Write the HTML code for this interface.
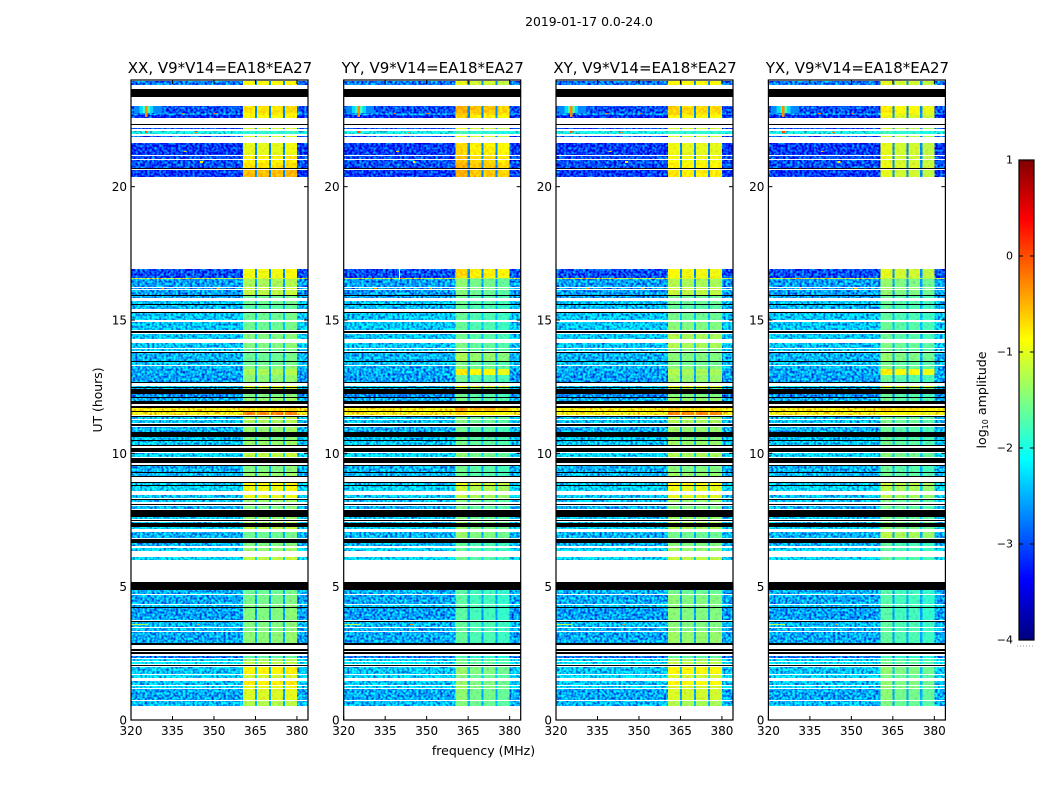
<!DOCTYPE html>
<html>
<head>
<meta charset="utf-8">
<title>2019-01-17 0.0-24.0</title>
<style>
html,body{margin:0;padding:0;background:#fff;}
svg{display:block;font-family:"DejaVu Sans","Liberation Sans",sans-serif;}
text{fill:#000;}
</style>
</head>
<body>
<svg id="fig" width="1050" height="800" viewBox="0 0 1050 800" xmlns="http://www.w3.org/2000/svg">
  <defs>
    <filter id="speckle-a" filterUnits="objectBoundingBox" x="0" y="0" width="1" height="1" color-interpolation-filters="sRGB">
      <feTurbulence type="fractalNoise" baseFrequency="0.42" numOctaves="1" seed="3" result="n"/>
      <feColorMatrix in="n" type="matrix" values="0 0 0 0 0.5  2 0 0 0 -0.5  0.7 0 0 0 0.15  0 0 0 0 1" result="g"/>
      <feComposite in="SourceGraphic" in2="g" operator="arithmetic" k1="0" k2="1" k3="1" k4="-0.5" result="m"/>
      <feComposite in="m" in2="SourceAlpha" operator="in"/>
    </filter>
    <filter id="speckle-b" filterUnits="objectBoundingBox" x="0" y="0" width="1" height="1" color-interpolation-filters="sRGB">
      <feTurbulence type="fractalNoise" baseFrequency="0.38" numOctaves="1" seed="8" result="n"/>
      <feColorMatrix in="n" type="matrix" values="0 0 0 0 0.5  1 0 0 0 0  0 0 0 0 0.5  0 0 0 0 1" result="g"/>
      <feComposite in="SourceGraphic" in2="g" operator="arithmetic" k1="0" k2="1" k3="0.5" k4="-0.25" result="m"/>
      <feComposite in="m" in2="SourceAlpha" operator="in"/>
    </filter>
  </defs>
  <text x="589" y="26" font-size="12.4" text-anchor="middle">2019-01-17 0.0-24.0</text>
  <text x="483.5" y="755" font-size="12.5" text-anchor="middle">frequency (MHz)</text>
  <text transform="translate(102,400) rotate(-90)" font-size="12.4" text-anchor="middle">UT (hours)</text>
  <text transform="translate(986,400) rotate(-90)" font-size="12.6" text-anchor="middle">log<tspan font-size="8" dy="2">10</tspan><tspan dy="-2"> amplitude</tspan></text>
  <g id="panels"></g>
  <g id="colorbar"></g>
</svg>
<script>
/* ---------- data (hours, MHz, log10 amplitude) ---------- */
const panelTitles = ["XX, V9*V14=EA18*EA27","YY, V9*V14=EA18*EA27","XY, V9*V14=EA18*EA27","YX, V9*V14=EA18*EA27"];
const xTicks = [320,335,350,365,380];
const yTicks = [0,5,10,15,20];
const colorTicks = [1,0,-1,-2,-3,-4];
const colorTickLabels = ["1","0","\u22121","\u22122","\u22123","\u22124"];

/* High-band blocks (MHz); everything else uses the low level */
const blockStart = [360.5,365.6,370.6,375.7];
const blockEnd   = [364.8,369.9,374.9,380.0];
const blockGainXX = [0,0,0,0.05];
const blockGainYY = [0.12,0,0,-0.08];
const blockGainXY = [0.05,0,0,0];
const blockGainYX = [0.1,0,0,-0.08];
const notchFloor = -2.7;

/* Observed time bands: [start hour, end hour] */
const bandHours = [
 [.53,.71],[.75,1.16],[1.2,1.28],[1.31,1.46],[1.58,1.69],[1.73,1.99],[2.03,2.06],[2.1,2.18],[2.21,2.29],[2.33,2.4],
 [2.89,3.3],[3.34,3.45],[3.49,3.68],[3.75,4.2],[4.24,4.31],[4.35,4.69],[4.73,4.88],[6,6.11],[6.34,6.45],[6.53,6.64],
 [6.83,7.05],[7.16,7.24],[7.39,7.43],[7.54,7.61],[7.91,8.03],[8.18,8.25],[8.33,8.44],[8.59,8.78],[8.81,8.89],[9.15,9.26],
 [9.3,9.53],[9.86,10.02],[10.31,10.45],[10.5,10.62],[10.8,10.99],[11.14,11.25],[11.29,11.36],[11.44,11.55],[11.59,11.7],[11.97,12.07],
 [12.12,12.22],[12.41,12.45],[12.49,12.54],[12.68,12.94],[12.94,13.16],[13.16,13.28],[13.33,13.43],[13.46,13.76],[13.82,13.91],[13.95,14.14],
 [14.29,14.48],[14.64,14.93],[15,15.26],[15.41,15.51],[15.53,15.56],[15.6,15.71],[15.83,15.9],[15.94,16.13],[16.16,16.2],[16.24,16.54],
 [16.54,16.58],[16.58,16.91],[20.36,20.63],[20.7,20.89],[20.89,21],[21.04,21.15],[21.2,21.64],[21.86,21.9],[21.97,22.09],[22.16,22.2],
 [22.58,22.69],[22.69,22.76],[22.76,23.03],[23.83,23.96]
];
const lowLevels = [
 -2.45,-2.55,-2.3,-2.4,-2.3,-2.4,-2.4,-2.2,-2.3,-2.8,
 -2.55,-2.5,-2.45,-2.6,-2.4,-2.55,-2.5,-2.3,-2.3,-2.5,
 -2.5,-2.3,-2.4,-2.4,-2.5,-2.4,-2.4,-2.3,-2.4,-2.5,
 -2.5,-2.3,-2.4,-2.4,-2.5,-2.4,-2.4,-0.95,-0.9,-2.5,
 -2.7,-2.5,-2.3,-2.6,-2.55,-2.5,-2.4,-2.5,-2.4,-2.4,
 -2.4,-2.4,-2.4,-2.5,-2.4,-2.4,-2.6,-2.6,-2.6,-2.6,
 -1.2,-3.0,-3.1,-3.0,-3.0,-3.0,-3.1,-3.0,-2.0,-3.0,
 -3.2,-2.7,-3.0,-2.8
];
const highXX = [
 -1.25,-1.05,-1.0,-0.8,-1.1,-0.85,-1.2,-1.2,-1.3,-1.7,
 -1.45,-1.5,-1.5,-1.5,-1.5,-1.55,-1.6,-1.2,-1.4,-1.5,
 -1.6,-1.2,-1.3,-1.4,-1.5,-1.4,-1.0,-0.95,-0.9,-1.4,
 -1.5,-1.2,-1.4,-1.5,-1.4,-1.3,-1.3,-0.3,-0.7,-1.4,
 -1.5,-1.3,-1.0,-1.45,-1.3,-1.5,-1.6,-1.6,-1.6,-1.5,
 -1.5,-1.6,-1.6,-1.7,-1.6,-1.6,-1.6,-1.2,-1.1,-1.3,
 -1.1,-0.95,-0.55,-0.75,-0.85,-0.8,-1.0,-1.1,-1.9,-1.1,
 -0.9,-0.8,-0.75,-0.9
];
const highYY = [
 -1.6,-1.55,-1.5,-1.5,-1.6,-1.5,-1.7,-1.65,-1.65,-1.9,
 -1.75,-1.75,-1.75,-1.8,-1.75,-1.8,-1.8,-1.7,-1.75,-1.75,
 -1.5,-1.5,-1.5,-1.6,-1.65,-1.6,-1.3,-1.25,-1.1,-1.7,
 -1.7,-1.55,-1.65,-1.7,-1.7,-1.6,-1.6,-0.85,-0.5,-1.65,
 -1.7,-1.5,-1.0,-1.7,-0.9,-1.6,-1.65,-1.4,-1.65,-1.65,
 -1.7,-1.75,-1.75,-1.75,-1.7,-1.7,-1.7,-1.6,-1.5,-1.55,
 -1.4,-0.8,-0.6,-0.6,-0.7,-0.7,-0.8,-1.1,-1.9,-1.1,
 -0.8,-0.7,-0.6,-1.1
];
const highXY = [
 -1.3,-1.1,-1.1,-0.9,-1.1,-0.9,-1.2,-1.2,-1.3,-1.7,
 -1.4,-1.5,-1.5,-1.5,-1.5,-1.5,-1.6,-1.2,-1.4,-1.5,
 -1.6,-1.3,-1.3,-1.4,-1.5,-1.4,-1.05,-1.0,-0.9,-1.4,
 -1.5,-1.3,-1.4,-1.5,-1.4,-1.3,-1.3,-0.3,-0.7,-1.4,
 -1.5,-1.3,-1.0,-1.4,-1.3,-1.5,-1.6,-1.5,-1.5,-1.3,
 -1.3,-1.5,-1.6,-1.7,-1.6,-1.6,-1.6,-1.2,-1.1,-1.3,
 -1.1,-0.95,-0.8,-0.85,-0.95,-0.95,-1.0,-1.1,-1.9,-1.1,
 -0.9,-0.75,-0.7,-0.9
];
const highYX = [
 -1.6,-1.55,-1.5,-1.5,-1.6,-1.5,-1.7,-1.65,-1.65,-1.9,
 -1.75,-1.75,-1.75,-1.8,-1.75,-1.8,-1.8,-1.7,-1.75,-1.75,
 -1.3,-1.5,-1.5,-1.6,-1.65,-1.6,-1.3,-1.3,-1.2,-1.65,
 -1.7,-1.55,-1.65,-1.7,-1.7,-1.6,-1.6,-0.9,-0.7,-1.65,
 -1.7,-1.5,-1.0,-1.7,-0.9,-1.6,-1.65,-1.5,-1.65,-1.6,
 -1.7,-1.7,-1.75,-1.75,-1.7,-1.7,-1.7,-1.5,-1.4,-1.5,
 -1.3,-1.1,-1.1,-1.05,-1.1,-1.1,-1.1,-1.2,-1.9,-1.2,
 -1.05,-0.95,-0.9,-1.1
];

/* Flagged rows rendered black: [start hour, end hour] */
const blackRows = [
 [2.03,2.06],[2.48,2.55],[2.59,2.66],[2.83,2.89],[3.69,3.73],[4.2,4.24],[4.88,5.18],[6.64,6.79],[7.24,7.39],[7.46,7.5],
 [7.62,7.88],[8.06,8.1],[8.25,8.29],[8.78,8.81],[8.89,8.93],[9.11,9.15],[9.26,9.3],[9.53,9.56],[9.65,9.84],[10.05,10.2],
 [10.28,10.31],[10.45,10.5],[10.63,10.79],[11.03,11.1],[11.36,11.4],[11.55,11.59],[11.7,11.76],[11.84,11.96],[12.07,12.11],[12.22,12.41],
 [12.45,12.49],[12.62,12.66],[13.43,13.46],[13.76,13.8],[14.51,14.59],[15.26,15.3],[15.56,15.6],[15.9,15.94],[20.66,20.7],
 [22.31,22.35],[23.36,23.68]
];

/* Narrow features, common to all products: [start hour, end hour, start MHz, end MHz, level] */
const features = [
 [22.76,23.03,321,323,-2.7],[22.76,23.03,323,324.3,-2.3],[22.76,23.03,324.3,325,-1.8],[22.76,23.03,325.9,326.8,-1.8],[22.76,23.03,326.8,328,-2.3],[22.76,23.03,328,331,-2.7],
 [22.6,23.03,325,325.9,-0.3],[22.0,22.09,325,326,0],[16.54,16.58,330,331,-0.2],[16.54,16.58,341,342,-0.3],
 [16.16,16.2,331,332,-0.4],[16.16,16.2,351,352,-0.5],[3.55,3.6,344,345,-0.4],[3.55,3.6,320,326,-1.2],[22.72,22.76,338,339,-0.2],
 [22.72,22.76,350,351,-0.1],[22.0,22.06,343,344,-0.3],[20.9,20.95,345,346,-0.8],[21.3,21.34,339,340,-0.6]
];

/* ---------- scales ---------- */
const panelLeft = [131,343.7,556,768.4];
const panelWidth = 177, plotTop = 80, plotBottom = 720, fMin = 320, fMax = 384, tMax = 24;
const cbLeft = 1019, cbRight = 1034, cbTop = 160, cbBottom = 640, vMin = -4, vMax = 1;
const highByPanel = [highXX,highYY,highXY,highYX];
const gainByPanel = [blockGainXX,blockGainYY,blockGainXY,blockGainYX];
const panelKeys = ["xx","yy","xy","yx"];

const hourY = h => plotBottom - (h/tMax)*(plotBottom-plotTop);
const freqX = (f,l) => l + ((f-fMin)/(fMax-fMin))*panelWidth;
const levelY = v => cbBottom - ((v-vMin)/(vMax-vMin))*(cbBottom-cbTop);

function jet(v){
  const t = Math.min(1,Math.max(0,(v-vMin)/(vMax-vMin)));
  const ch = x => Math.round(255*Math.min(1,Math.max(0,1.5-Math.abs(4*t-x))));
  return "rgb("+ch(3)+","+ch(2)+","+ch(1)+")";
}
const NS = "http://www.w3.org/2000/svg";
function mk(tag,attrs,parent){
  const n = document.createElementNS(NS,tag);
  for(const k in attrs) n.setAttribute(k,attrs[k]);
  parent.appendChild(n);
  return n;
}
function cell(parent,x0,x1,h0,h1,fill){
  const yTop = Math.round(hourY(h1)), yBot = Math.round(hourY(h0));
  return mk("rect",{x:x0,y:yTop,width:x1-x0,height:Math.max(1,yBot-yTop),fill:fill,"shape-rendering":"crispEdges"},parent);
}

/* ---------- panels ---------- */
const panelsRoot = document.getElementById("panels");
panelLeft.forEach((left,p)=>{
  const key = panelKeys[p];
  const right = left+panelWidth;
  const g = mk("g",{},panelsRoot);
  
  

  const lowG = mk("g",{filter:"url(#speckle-a)"},g);
  
  
  const highG = mk("g",{filter:"url(#speckle-b)"},g);
  
  

  bandHours.forEach((b,i)=>{
    const band = cell(lowG,left,right,b[0],b[1],jet(lowLevels[i]));
    
    
    blockStart.forEach((fs,k)=>{
      const v = highByPanel[p][i] + gainByPanel[p][k];
      const block = cell(highG,freqX(fs,left),freqX(blockEnd[k],left),b[0],b[1],jet(v));
      
      
      if(k < blockStart.length-1){
        const notch = cell(highG,freqX(blockEnd[k],left),freqX(blockStart[k+1],left),b[0],b[1],jet(Math.max(lowLevels[i],notchFloor)));
        
        
      }
    });
  });

  features.forEach(f=>{
    const m = cell(g,freqX(f[2],left),freqX(f[3],left),f[0],f[1],jet(f[4]));
    
    
  });

  blackRows.forEach(r=>{
    const k = cell(g,left,right,r[0],r[1],"#000");
    
    
  });

  const frame = mk("rect",{x:left,y:plotTop,width:panelWidth,height:plotBottom-plotTop,fill:"none",stroke:"#000","stroke-width":1.2},g);
  
  

  xTicks.forEach(f=>{
    const x = freqX(f,left);
    const tb = mk("line",{x1:x,x2:x,y1:plotBottom,y2:plotBottom-4,stroke:"#000","stroke-width":1},g);
    
    
    const tt = mk("line",{x1:x,x2:x,y1:plotTop,y2:plotTop+4,stroke:"#000","stroke-width":1},g);
    
    
    const lb = mk("text",{x:x,y:735,"font-size":12,"text-anchor":"middle"},g);
    
    
    lb.textContent = String(f);
  });

  yTicks.forEach(h=>{
    const y = hourY(h);
    const tl = mk("line",{x1:left,x2:left+4,y1:y,y2:y,stroke:"#000","stroke-width":1},g);
    
    
    const tr = mk("line",{x1:right,x2:right-4,y1:y,y2:y,stroke:"#000","stroke-width":1},g);
    
    
    const lb = mk("text",{x:left-4,y:y+4.5,"font-size":12,"text-anchor":"end"},g);
    
    
    lb.textContent = String(h);
  });

  const title = mk("text",{x:left+panelWidth/2+0.5,y:73,"font-size":15,"text-anchor":"middle"},g);
  
  
  title.textContent = panelTitles[p];
});

/* white vertical gap seen only in YY */
const yyGap = mk("rect",{x:freqX(340,panelLeft[1]),y:hourY(16.91),width:1,height:hourY(16.5)-hourY(16.91),fill:"#fff"},panelsRoot);



/* ---------- colorbar ---------- */
const cb = document.getElementById("colorbar");
const cbSteps = 240;
for(let i=0;i<cbSteps;i++){
  const v0 = vMin + (vMax-vMin)*i/cbSteps;
  const v1 = vMin + (vMax-vMin)*(i+1)/cbSteps;
  const seg = mk("rect",{x:cbLeft,y:levelY(v1),width:cbRight-cbLeft,height:levelY(v0)-levelY(v1)+0.5,fill:jet(v0)},cb);
  
  
}
const cbFrame = mk("rect",{x:cbLeft,y:cbTop,width:cbRight-cbLeft,height:cbBottom-cbTop,fill:"none",stroke:"#000","stroke-width":1.2},cb);


colorTicks.forEach((v,i)=>{
  const y = levelY(v);
  const t1 = mk("line",{x1:cbLeft,x2:cbLeft+4,y1:y,y2:y,stroke:"#000","stroke-width":1},cb);
  
  
  const t2 = mk("line",{x1:cbRight,x2:cbRight-4,y1:y,y2:y,stroke:"#000","stroke-width":1},cb);
  
  
  const lb = mk("text",{x:1013,y:y+3.5,"font-size":11,"text-anchor":"end"},cb);
  
  
  lb.textContent = colorTickLabels[i];
});
const cbDots = mk("line",{x1:1017,x2:1035,y1:646,y2:646,stroke:"#999","stroke-width":1,"stroke-dasharray":"1 2"},cb);


</script>
</body>
</html>
